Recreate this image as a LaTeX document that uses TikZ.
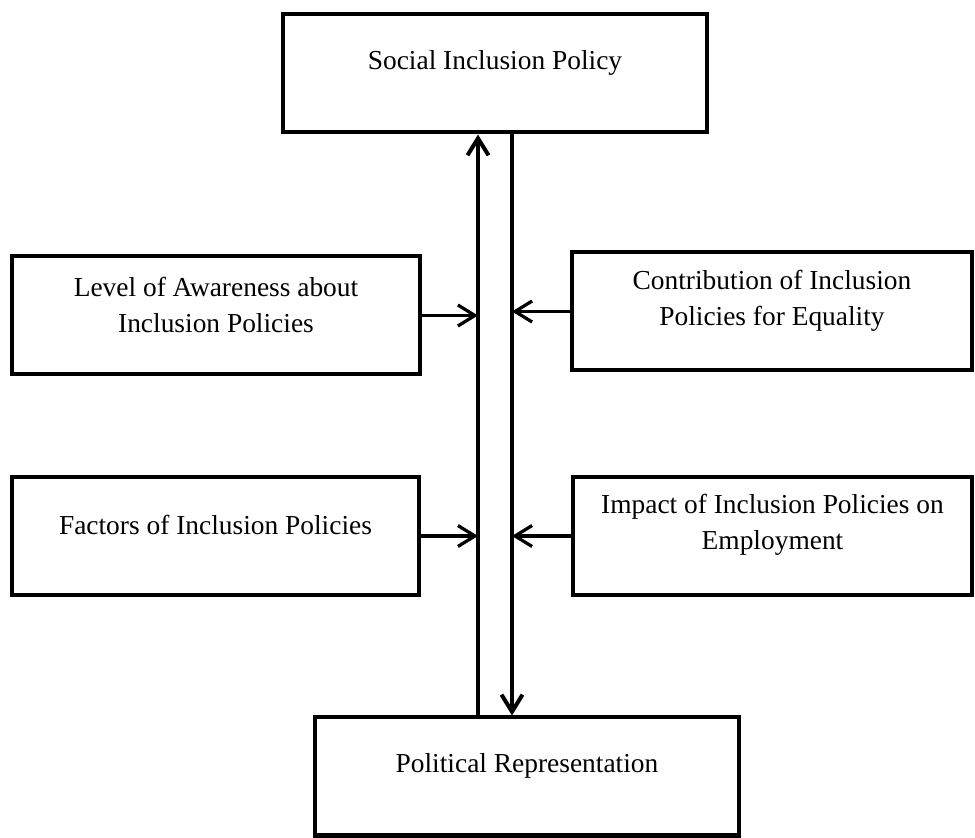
\documentclass[tikz,border=0pt]{standalone}
\usepackage{fontspec}
\setmainfont{Liberation Serif}
\usepackage{xcolor}
\usetikzlibrary{arrows.meta}
\definecolor{ink}{HTML}{000000}
\tikzset{
  blk/.style={draw=ink, line width=0.08cm, line join=miter, minimum width=#1, minimum height=2.36cm, inner sep=0pt},
  txt/.style={text=ink, align=center, anchor=center, yshift=-1.0cm, font=\fontsize{15.6}{20.5}\selectfont},
  link/.style={draw=ink, line width=0.08cm, -{Straight Barb[length=0.34cm,width=0.42cm]}},
  feed/.style={link, line width=0.065cm},
}

\begin{document}
\begin{tikzpicture}
  \useasboundingbox (0,0) rectangle (19.5,16.76);

  \node[blk=8.48cm, label={[txt]north:Social Inclusion Policy}] (soc) at (9.9,15.29) {};
  \node[blk=8.16cm, label={[txt]north:Level of Awareness about\\Inclusion Policies}] (lv) at (4.32,10.45) {};
  \node[blk=8.0cm, label={[txt]north:Contribution of Inclusion\\Policies for Equality}] (ct) at (15.44,10.53) {};
  \node[blk=8.14cm, label={[txt]north:Factors of Inclusion Policies}] (fa) at (4.31,6.04) {};
  \node[blk=7.98cm, label={[txt]north:Impact of Inclusion Policies on\\Employment}] (im) at (15.45,6.04) {};
  \node[blk=8.48cm, label={[txt]north:Political Representation}] (pol) at (10.54,1.23) {};

  \coordinate (upx) at ([xshift=-0.34cm]soc.south);
  \coordinate (dnx) at ([xshift=0.34cm]soc.south);

  \draw[link] (pol.north -| upx) -- (upx); % up
  \draw[link] (dnx) -- (pol.north -| dnx); % down

  \draw[feed] (lv.east) -- (lv.east -| upx);
  \draw[feed] (fa.east) -- (fa.east -| upx);
  \draw[feed] (ct.west) -- (ct.west -| dnx);
  \draw[feed] (im.west) -- (im.west -| dnx);
\end{tikzpicture}
\end{document}
